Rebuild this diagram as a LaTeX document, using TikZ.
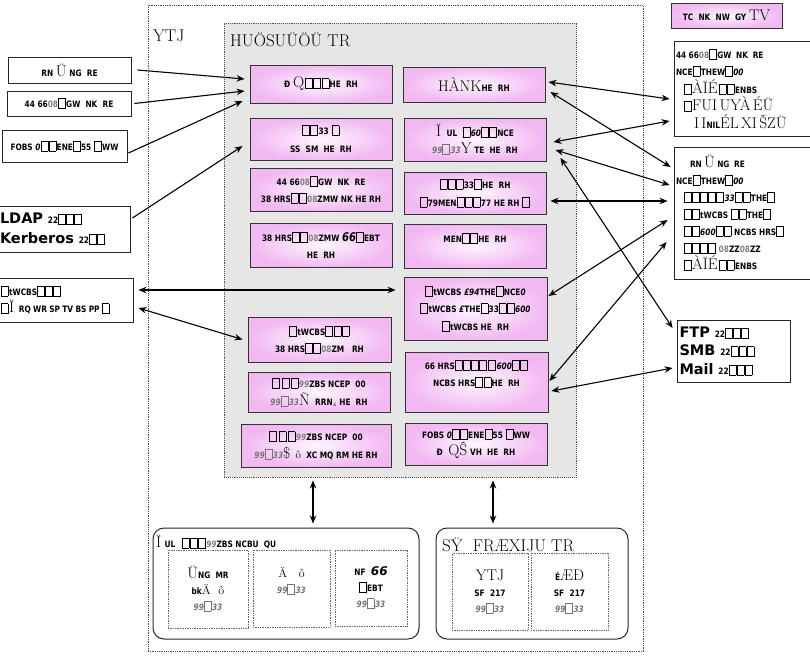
\documentclass[tikz,border=0pt]{standalone}
\usepackage{fontspec}
\newfontfamily\djs{DejaVu Sans}
\newfontfamily\djn[FakeStretch=0.84]{DejaVu Sans}
\usetikzlibrary{arrows.meta,calc}
\definecolor{pk}{RGB}{242,184,242}
\definecolor{gbg}{RGB}{230,230,230}
\newcommand\tofu{{\setlength\fboxsep{0pt}\setlength\fboxrule{0.5pt}\fbox{\rule[-0.5pt]{0pt}{9.5pt}\hspace{6.5pt}}}\kern0.6pt}
\newcommand\sm[1]{{\djn\bfseries\fontsize{8.8}{9}\selectfont #1}}
\newcommand\bg[1]{{\fontsize{15.5}{16}\selectfont #1}}
\newcommand\hol{\textcolor{black!55}{\sm{\itshape 99}\tofu\sm{\itshape 33}}}
\begin{document}
\begin{tikzpicture}[x=1pt,y=-1pt,
  pbox/.style={draw=black!80, line width=0.9pt, inner color=pk!12, outer color=pk, minimum width=142pt, align=center, inner sep=1pt, font=\fontsize{7}{17.5}\selectfont},
  wbox/.style={draw=black!85, line width=0.9pt, fill=white, inner sep=1pt, font=\fontsize{7}{17.5}\selectfont},
  dbox/.style={draw=black!70, densely dotted, line width=0.8pt, inner sep=0pt},
  ibox/.style={draw=black!60, densely dotted, line width=0.7pt, inner sep=0pt, align=center, font=\fontsize{7}{16}\selectfont},
  cbox/.style={draw=black!85, line width=1pt, rounded corners=11pt, inner sep=0pt},
  tip/.tip={Stealth[length=8pt,width=6.5pt]},
  arr/.style={line width=1.1pt, -tip},
  darr/.style={line width=1.1pt, tip-tip},
]
\useasboundingbox (0,0) rectangle (810,664);

% outer system boundary
\node[dbox, minimum width=495pt, minimum height=646pt] (outer) at (395.5,328) {};
\node[anchor=west, inner sep=0pt] (ytj) at (153,36) {\fontsize{17}{18}\selectfont YTJ};

% core region
\node[dbox, fill=gbg, line width=0.9pt, minimum width=352pt, minimum height=454pt] (core) at (400,250) {};
\node[anchor=west, inner sep=0pt] (coret) at (230,40) {\fontsize{17}{18}\selectfont HUÖSUÜÖÜ TR};

% pink boxes, left column
\node[pbox, minimum height=38pt] (L1) at (321,84) {\sm{Ð} \bg{Q}\,\tofu\tofu\tofu\sm{HE\ \ RH}};
\node[pbox, minimum height=42pt] (L2) at (321,139) {\tofu\tofu\sm{33} \tofu\\ \sm{SS\ \ SM\ \ HE\ \ RH}};
\node[pbox, minimum height=43pt] (L3) at (321,189.5) {\sm{44 66\textcolor{black!50}{08}}\tofu\sm{GW\ \ NK\ \ RE}\\ \sm{38 HRS}\tofu\tofu\sm{\textcolor{black!50}{08}ZMW\ NK\ HE\ RH}};
\node[pbox, minimum height=44pt] (L4) at (321,245) {\sm{38 HRS}\tofu\tofu\sm{\textcolor{black!50}{08}ZMW\ {\fontsize{12}{12}\selectfont\itshape 66}}\tofu\sm{EBT}\\ \sm{HE\ \ RH}};
\node[pbox, minimum height=45pt, minimum width=143pt] (L5) at (319.5,339.5) {\tofu\sm{tWCBS}\tofu\tofu\tofu\\ \sm{38 HRS}\tofu\tofu\sm{\textcolor{black!50}{08}ZM\ \ \ RH}};
\node[pbox, minimum height=40pt] (L6) at (319,392) {\tofu\,\tofu\,\tofu\sm{\textcolor{black!50}{\itshape 99}ZBS NCEP\ \ 00}\\ \hol\bg{Ñ}\ \ \sm{RRN}$_4$\ \sm{HE\ \ RH}};
\node[pbox, minimum height=43pt, minimum width=150pt] (L7) at (316,445.5) {\tofu\,\tofu\,\tofu\sm{\textcolor{black!50}{\itshape 99}ZBS NCEP\ \ 00}\\ \hol\bg{\$}\ \ {\fontsize{11}{12}\selectfont ô}\ \ \sm{XC MQ} \sm{RM HE\ RH}};

% pink boxes, right column
\node[pbox, minimum height=35pt] (R1) at (474,84.5) {\bg{HÀNK}\sm{HE\ \ RH}};
\node[pbox, minimum height=43pt] (R2) at (475,139.5) {\bg{Ï}\ \ \sm{UL}\ \ \tofu\sm{\itshape 60}\tofu\tofu\sm{NCE}\\ \hol\bg{Y}\ \sm{TE\ \ HE\ \ RH}};
\node[pbox, minimum height=42pt] (R3) at (475,193) {\tofu\tofu\tofu\sm{33}\tofu\sm{HE\ \ RH}\\ \tofu\sm{79MEN}\tofu\tofu\tofu\sm{77 HE\ RH}\ \tofu};
\node[pbox, minimum height=44pt] (R4) at (475,246) {\sm{MEN}\tofu\tofu\sm{HE\ \ RH}\\ \mbox{}};
\node[pbox, minimum height=63pt, minimum width=143pt] (R5) at (475.5,308.5) {\tofu\sm{tWCBS \textit{£94}THE}\tofu\sm{NCE\textit{0}}\\ \tofu\sm{tWCBS \textit{£}THE}\tofu\sm{33}\tofu\tofu\sm{\textit{600}}\\ \tofu\sm{tWCBS HE\ \ RH}};
\node[pbox, minimum height=60pt, minimum width=143pt] (R6) at (476.5,382) {\sm{66 HRS}\tofu\tofu\tofu\tofu\,\tofu\sm{\itshape 600}\tofu\tofu\\ \sm{NCBS HRS}\tofu\tofu\sm{HE\ \ RH}\\ \mbox{}};
\node[pbox, minimum height=42pt] (R7) at (476,444) {\sm{FOBS \textit{0}}\tofu\tofu\sm{ENE}\tofu\sm{55} \tofu\sm{WW}\\ \sm{Ð}\ \ \bg{QŜ}\ \sm{VH\ \ HE\ \ RH}};

% left external boxes
\node[wbox, minimum width=123pt, minimum height=26pt] (A) at (69.5,70) {\sm{RN} \bg{Ü} \sm{NG\ \ RE}};
\node[wbox, minimum width=124pt, minimum height=25pt] (B) at (69,103.5) {\sm{44 66\textcolor{black!50}{08}}\tofu\sm{GW\ \ NK\ \ RE}};
\node[wbox, minimum width=125pt, minimum height=32pt] (C) at (64.5,146) {\sm{FOBS \textit{0}}\tofu\tofu\sm{ENE}\tofu\sm{55} \tofu\sm{WW}};
\node[wbox, minimum width=132pt, minimum height=46pt, text width=128pt, align=left, font=\djs\bfseries\fontsize{14.5}{20}\selectfont] (D) at (64,229) {LDAP \sm{22}\tofu\tofu\tofu\\ Kerberos \sm{22}\tofu\tofu};
\node[wbox, minimum width=134pt, minimum height=44pt, text width=130pt, align=left] (E) at (66,300) {\tofu\sm{tWCBS}\tofu\tofu\tofu\\ \tofu\bg{Ï}\ \ \sm{RQ\ WR\ SP\ TV\ BS\ PP}\ \tofu};

% right external boxes
\node[pbox, minimum width=111pt, minimum height=25pt] (TP) at (726.5,15.5) {\sm{TC\ \ NK\ \ NW\ \ GY}\ \bg{TV}};
\node[wbox, minimum width=138pt, minimum height=95pt, text width=134pt, align=left] (F) at (743,88.5) {\sm{44 66\textcolor{black!50}{08}}\tofu\sm{GW\ \ NK\ \ RE}\\ \sm{NCE}\tofu\sm{THEW}\tofu\sm{\itshape 00}\\ \hspace*{8pt}\tofu\bg{ÀÏÉ}\,\tofu\tofu\sm{ENBS}\\ \hspace*{8pt}\tofu\bg{FUI UYÀ ÉÜ}\\ \hspace*{18pt}\bg{I I}\sm{NIL}\bg{ÉL XI ŠZÜ}};
\node[wbox, minimum width=138pt, minimum height=132pt, text width=134pt, align=left, font=\fontsize{7}{17}\selectfont] (G) at (743,213) {\hspace*{14pt}\sm{RN} \bg{Ü} \sm{NG\ \ RE}\\ \sm{NCE}\tofu\sm{THEW}\tofu\sm{\itshape 00}\\ \hspace*{8pt}\tofu\tofu\tofu\tofu\tofu\sm{\textit{33}}\tofu\tofu\sm{THE}\tofu\\ \hspace*{8pt}\tofu\tofu\sm{tWCBS }\tofu\tofu\sm{THE}\tofu\\ \hspace*{8pt}\tofu\tofu\sm{\itshape 600}\tofu\tofu\sm{ NCBS HRS}\tofu\\ \hspace*{8pt}\tofu\tofu\tofu\tofu\sm{ \textcolor{black!50}{08}ZZ\textcolor{black!50}{08}ZZ}\\ \hspace*{8pt}\tofu\bg{ÀÏÉ}\,\tofu\tofu\sm{ENBS}};
\node[wbox, minimum width=113pt, minimum height=62pt, text width=108pt, align=left, font=\djs\bfseries\fontsize{14.5}{18.5}\selectfont] (H) at (733.5,351) {FTP \sm{22}\tofu\tofu\tofu\\ SMB \sm{22}\tofu\tofu\tofu\\ Mail \sm{22}\tofu\tofu\tofu};

% bottom containers
\node[cbox, minimum width=266pt, minimum height=111pt] (C1) at (286,583.5) {};
\node[anchor=west, inner sep=0pt] (C1t) at (156,542) {\bg{Ï}\ \sm{UL}\ \ \tofu\tofu\tofu\sm{\textcolor{black!50}{\itshape 99}ZBS NCBU\ \ QU}};
\node[ibox, minimum width=80pt, minimum height=78pt] (ia) at (208,589) {\bg{Ü}\sm{NG\ \ MR}\\ \sm{bk}{\fontsize{12}{12}\selectfont Ä\ \ ô}\\ \hol};
\node[ibox, minimum width=77pt, minimum height=77pt] (ib) at (291.5,588.5) {{\fontsize{12}{12}\selectfont Ä\ \ \ ô}\\ \hol\\ \mbox{}};
\node[ibox, minimum width=72pt, minimum height=76pt] (ic) at (371,588) {\sm{NF}\ \ {\djs\bfseries\itshape\fontsize{12}{12}\selectfont 66}\\ \tofu\sm{EBT}\\ \hol};
\node[cbox, minimum width=192pt, minimum height=111pt] (C2) at (532,583.5) {};
\node[anchor=west, inner sep=0pt] (C2t) at (442,545) {\fontsize{17}{18}\selectfont SŸ\ \ FRÆXIJU TR};
\node[ibox, minimum width=76pt, minimum height=77pt] (id) at (490,591.5) {\bg{YTJ}\\ \sm{SF}\ \ \sm{217}\\ \hol};
\node[ibox, minimum width=77pt, minimum height=77pt] (ie) at (569.5,591.5) {\sm{É}\bg{ÆÐ}\\ \sm{SF}\ \ \sm{217}\\ \hol};

% left connectors
\draw[arr] ([xshift=6pt]A.east) -- ([xshift=-5pt,yshift=5pt]L1.west);
\draw[arr] ([xshift=3pt]B.east) -- ([xshift=-5pt,yshift=-7pt]L1.west);
\draw[arr] ([xshift=1pt,yshift=-7pt]C.east) -- ([xshift=-7pt,yshift=-17pt]L1.west);
\draw[arr] ([xshift=2pt,yshift=11pt]D.east) -- ([xshift=-7pt,yshift=-7pt]L2.west);
\draw[darr] ([xshift=5pt,yshift=10pt]E.east) -- ([xshift=-8pt,yshift=18.5pt]R5.west);
\draw[darr] ([xshift=5pt,yshift=-8pt]E.east) -- ([xshift=-5pt]L5.west);

% right connectors
\draw[darr] ([xshift=3pt,yshift=2.5pt]R1.east) -- ([xshift=-4pt,yshift=-10.5pt]F.west);
\draw[darr] ([xshift=5pt,yshift=-7.5pt]R1.east) -- ([xshift=-3pt,yshift=46pt]G.west);
\draw[darr] ([xshift=7pt,yshift=-2.5pt]R2.east) -- ([xshift=-4pt,yshift=-32.5pt]F.west);
\draw[darr] ([xshift=9pt,yshift=-10.5pt]R2.east) -- ([xshift=-4pt,yshift=28pt]G.west);
\draw[darr] ([xshift=14pt,yshift=-18.5pt]R2.east) -- ([xshift=-4pt,yshift=23pt]H.west);
\draw[darr] ([xshift=4pt,yshift=-8pt]R3.east) -- ([xshift=-6pt,yshift=12pt]G.west);
\draw[darr] ([xshift=1pt,yshift=12.5pt]R5.east) -- ([xshift=-6pt,yshift=-7pt]G.west);
\draw[darr] ([xshift=1pt,yshift=1pt]R6.east) -- ([xshift=-7pt,yshift=-29pt]G.west);
\draw[darr] ([xshift=3pt,yshift=-9pt]R6.east) -- ([xshift=-4pt,yshift=-17pt]H.west);

% vertical connectors
\draw[darr] ([xshift=-87pt,yshift=-3pt]core.south) -- ([xshift=27pt,yshift=4pt]C1.north);
\draw[darr] ([xshift=93pt,yshift=-3pt]core.south) -- ([xshift=-39pt,yshift=4pt]C2.north);
\end{tikzpicture}
\end{document}
